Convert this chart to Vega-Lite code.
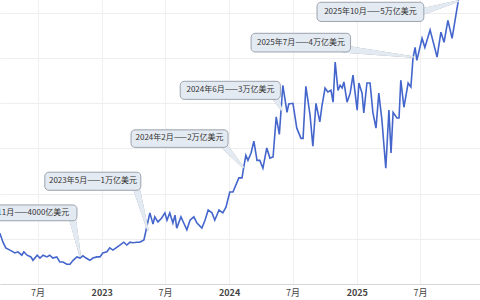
{
  "$schema": "https://vega.github.io/schema/vega-lite/v6.json",
  "width": 480,
  "height": 284,
  "padding": 0,
  "autosize": {"type": "pad"},
  "background": "white",
  "config": {"view": {"stroke": null}},
  "datasets": {
    "series": [
      {"date": "2022-03-15", "v": 0.90}, {"date": "2022-03-24", "v": 0.74}, {"date": "2022-04-01", "v": 0.64},
      {"date": "2022-04-13", "v": 0.60}, {"date": "2022-04-27", "v": 0.55}, {"date": "2022-05-06", "v": 0.57},
      {"date": "2022-05-17", "v": 0.51}, {"date": "2022-05-23", "v": 0.57}, {"date": "2022-06-01", "v": 0.51},
      {"date": "2022-06-12", "v": 0.48}, {"date": "2022-06-18", "v": 0.42}, {"date": "2022-06-30", "v": 0.51},
      {"date": "2022-07-08", "v": 0.46}, {"date": "2022-07-17", "v": 0.51}, {"date": "2022-07-28", "v": 0.48},
      {"date": "2022-08-05", "v": 0.51}, {"date": "2022-08-14", "v": 0.46}, {"date": "2022-08-25", "v": 0.48},
      {"date": "2022-09-03", "v": 0.39}, {"date": "2022-09-12", "v": 0.39}, {"date": "2022-09-23", "v": 0.35},
      {"date": "2022-10-02", "v": 0.35}, {"date": "2022-10-11", "v": 0.42}, {"date": "2022-10-22", "v": 0.48},
      {"date": "2022-10-31", "v": 0.46}, {"date": "2022-11-08", "v": 0.50}, {"date": "2022-11-17", "v": 0.46},
      {"date": "2022-11-28", "v": 0.42}, {"date": "2022-12-07", "v": 0.46}, {"date": "2022-12-18", "v": 0.48},
      {"date": "2022-12-27", "v": 0.48}, {"date": "2023-01-04", "v": 0.55}, {"date": "2023-01-16", "v": 0.57},
      {"date": "2023-01-24", "v": 0.64}, {"date": "2023-02-02", "v": 0.60}, {"date": "2023-02-13", "v": 0.65},
      {"date": "2023-02-22", "v": 0.69}, {"date": "2023-03-05", "v": 0.74}, {"date": "2023-03-14", "v": 0.69},
      {"date": "2023-03-23", "v": 0.74}, {"date": "2023-03-31", "v": 0.73}, {"date": "2023-04-12", "v": 0.74},
      {"date": "2023-04-20", "v": 0.74}, {"date": "2023-05-02", "v": 0.78}, {"date": "2023-05-10", "v": 1.01},
      {"date": "2023-05-19", "v": 1.26}, {"date": "2023-05-28", "v": 1.06}, {"date": "2023-06-02", "v": 1.19},
      {"date": "2023-06-11", "v": 1.10}, {"date": "2023-06-22", "v": 1.17}, {"date": "2023-07-01", "v": 1.26},
      {"date": "2023-07-07", "v": 1.13}, {"date": "2023-07-15", "v": 1.26}, {"date": "2023-07-24", "v": 1.08},
      {"date": "2023-07-30", "v": 1.22}, {"date": "2023-08-04", "v": 0.99}, {"date": "2023-08-16", "v": 1.19},
      {"date": "2023-08-24", "v": 1.08}, {"date": "2023-09-02", "v": 0.96}, {"date": "2023-09-11", "v": 1.13},
      {"date": "2023-09-22", "v": 1.19}, {"date": "2023-10-01", "v": 1.08}, {"date": "2023-10-15", "v": 0.99},
      {"date": "2023-10-24", "v": 1.13}, {"date": "2023-11-02", "v": 1.31}, {"date": "2023-11-13", "v": 1.26},
      {"date": "2023-11-21", "v": 1.13}, {"date": "2023-12-03", "v": 1.31}, {"date": "2023-12-14", "v": 1.26},
      {"date": "2023-12-23", "v": 1.36}, {"date": "2024-01-03", "v": 1.63}, {"date": "2024-01-12", "v": 1.63},
      {"date": "2024-01-23", "v": 1.79}, {"date": "2024-01-29", "v": 1.88}, {"date": "2024-02-07", "v": 1.88},
      {"date": "2024-02-12", "v": 2.07}, {"date": "2024-02-18", "v": 2.28}, {"date": "2024-02-24", "v": 2.19},
      {"date": "2024-03-04", "v": 2.32}, {"date": "2024-03-12", "v": 2.53}, {"date": "2024-03-21", "v": 2.19},
      {"date": "2024-03-29", "v": 2.19}, {"date": "2024-04-07", "v": 2.05}, {"date": "2024-04-18", "v": 2.41},
      {"date": "2024-04-27", "v": 2.23}, {"date": "2024-05-06", "v": 2.25}, {"date": "2024-05-15", "v": 2.96},
      {"date": "2024-05-24", "v": 2.65}, {"date": "2024-06-03", "v": 3.52}, {"date": "2024-06-15", "v": 3.04},
      {"date": "2024-06-20", "v": 3.19}, {"date": "2024-07-02", "v": 3.20}, {"date": "2024-07-13", "v": 2.76},
      {"date": "2024-07-25", "v": 2.58}, {"date": "2024-07-31", "v": 2.58}, {"date": "2024-08-08", "v": 3.50},
      {"date": "2024-08-20", "v": 2.99}, {"date": "2024-08-28", "v": 2.44}, {"date": "2024-09-06", "v": 3.20},
      {"date": "2024-09-17", "v": 2.87}, {"date": "2024-09-23", "v": 3.15}, {"date": "2024-10-02", "v": 3.47},
      {"date": "2024-10-10", "v": 3.40}, {"date": "2024-10-19", "v": 3.43}, {"date": "2024-10-25", "v": 3.22},
      {"date": "2024-10-31", "v": 3.93}, {"date": "2024-11-08", "v": 3.43}, {"date": "2024-11-14", "v": 3.52},
      {"date": "2024-11-20", "v": 3.47}, {"date": "2024-11-25", "v": 3.58}, {"date": "2024-12-04", "v": 3.22},
      {"date": "2024-12-13", "v": 3.38}, {"date": "2024-12-21", "v": 3.70}, {"date": "2025-01-02", "v": 3.08},
      {"date": "2025-01-07", "v": 3.56}, {"date": "2025-01-16", "v": 3.38}, {"date": "2025-01-21", "v": 3.03},
      {"date": "2025-01-30", "v": 3.56}, {"date": "2025-02-08", "v": 3.56}, {"date": "2025-02-16", "v": 3.04},
      {"date": "2025-02-25", "v": 2.76}, {"date": "2025-03-05", "v": 3.38}, {"date": "2025-03-14", "v": 2.90},
      {"date": "2025-03-25", "v": 2.05}, {"date": "2025-04-03", "v": 3.08}, {"date": "2025-04-09", "v": 2.32},
      {"date": "2025-04-15", "v": 3.04}, {"date": "2025-04-26", "v": 2.94}, {"date": "2025-05-02", "v": 2.94},
      {"date": "2025-05-07", "v": 3.61}, {"date": "2025-05-16", "v": 3.13}, {"date": "2025-05-28", "v": 3.56},
      {"date": "2025-06-05", "v": 3.49}, {"date": "2025-06-11", "v": 4.00}, {"date": "2025-06-17", "v": 4.19},
      {"date": "2025-06-22", "v": 3.96}, {"date": "2025-07-07", "v": 4.35}, {"date": "2025-07-15", "v": 4.19},
      {"date": "2025-07-30", "v": 4.50}, {"date": "2025-08-19", "v": 4.02}, {"date": "2025-08-30", "v": 4.46},
      {"date": "2025-09-08", "v": 4.28}, {"date": "2025-09-19", "v": 4.67}, {"date": "2025-10-01", "v": 4.35},
      {"date": "2025-10-21", "v": 5.10}
    ],
    "boxes": [
      {"label": "2022年11月——4000亿美元", "start": "2021-12-05", "end": "2022-10-22", "top": 1.40, "bottom": 1.12, "mid": "2022-05-13", "midv": 1.26},
      {"label": "2023年5月——1万亿美元", "start": "2022-07-22", "end": "2023-04-23", "top": 1.98, "bottom": 1.66, "mid": "2022-12-07", "midv": 1.82},
      {"label": "2024年2月——2万亿美元", "start": "2023-03-26", "end": "2023-12-29", "top": 2.73, "bottom": 2.42, "mid": "2023-08-12", "midv": 2.58},
      {"label": "2024年6月——3万亿美元", "start": "2023-08-14", "end": "2024-05-27", "top": 3.59, "bottom": 3.27, "mid": "2024-01-05", "midv": 3.43},
      {"label": "2025年7月——4万亿美元", "start": "2024-03-04", "end": "2024-12-14", "top": 4.44, "bottom": 4.11, "mid": "2024-07-25", "midv": 4.27},
      {"label": "2025年10月——5万亿美元", "start": "2024-09-09", "end": "2025-07-12", "top": 4.99, "bottom": 4.65, "mid": "2025-02-09", "midv": 4.82}
    ],
    "pointers": [
      {"id": 1, "date": "2022-10-07", "v": 1.22, "along": 0}, {"id": 1, "date": "2022-10-31", "v": 0.50, "along": 1},
      {"id": 2, "date": "2023-04-06", "v": 1.79, "along": 0}, {"id": 2, "date": "2023-05-13", "v": 0.96, "along": 1},
      {"id": 3, "date": "2023-12-06", "v": 2.53, "along": 0}, {"id": 3, "date": "2024-02-10", "v": 2.07, "along": 1},
      {"id": 4, "date": "2024-05-08", "v": 3.35, "along": 0}, {"id": 4, "date": "2024-05-31", "v": 3.08, "along": 1},
      {"id": 5, "date": "2024-11-28", "v": 4.16, "along": 0}, {"id": 5, "date": "2025-06-11", "v": 4.02, "along": 1},
      {"id": 6, "date": "2025-06-25", "v": 4.80, "along": 0}, {"id": 6, "date": "2025-10-18", "v": 5.01, "along": 1}
    ]
  },
  "layer": [
    {
      "data": {"name": "series"},
      "mark": {"type": "line", "color": "#4466cc", "strokeWidth": 1.6, "clip": true},
      "encoding": {
        "x": {
          "field": "date", "type": "temporal",
          "scale": {"type": "utc", "domain": [{"year": 2022, "month": 3, "date": 15, "hours": 12, "utc": true}, {"year": 2025, "month": 12, "date": 20, "utc": true}]},
          "axis": {
            "title": null,
            "values": [
              {"year": 2022, "month": 7, "date": 1, "utc": true},
              {"year": 2023, "month": 1, "date": 1, "utc": true},
              {"year": 2023, "month": 7, "date": 1, "utc": true},
              {"year": 2024, "month": 1, "date": 1, "utc": true},
              {"year": 2024, "month": 7, "date": 1, "utc": true},
              {"year": 2025, "month": 1, "date": 1, "utc": true},
              {"year": 2025, "month": 7, "date": 1, "utc": true},
              {"year": 2026, "month": 1, "date": 1, "utc": true}
            ],
            "labelExpr": "utcmonth(datum.value) === 0 ? utcFormat(datum.value, '%Y') : (utcmonth(datum.value) + 1) + '月'",
            "labelFontWeight": {"condition": {"test": "utcmonth(datum.value) === 0", "value": "bold"}, "value": "normal"},
            "labelFont": "Noto Sans CJK SC",
            "labelFontSize": 9,
            "labelColor": "#444444",
            "labelFlush": false,
            "labelOverlap": false,
            "labelPadding": 4,
            "ticks": false,
            "domainColor": "#d6d6d6",
            "grid": true,
            "gridColor": "#f0f0f0"
          }
        },
        "y": {
          "field": "v", "type": "quantitative",
          "scale": {"domain": [0, 5.03], "nice": false, "zero": false},
          "axis": {
            "title": null, "labels": false, "ticks": false, "domain": false,
            "values": [0, 0.4, 0.8, 1.2, 1.6, 2.0, 2.4, 2.8, 3.2, 3.6, 4.0, 4.4, 4.8],
            "grid": true, "gridColor": "#eeeeee"
          }
        }
      }
    },
    {
      "data": {"name": "pointers"},
      "mark": {"type": "trail", "color": "#9aa2ad", "clip": true},
      "encoding": {
        "x": {"field": "date", "type": "temporal"},
        "y": {"field": "v", "type": "quantitative"},
        "detail": {"field": "id", "type": "nominal"},
        "order": {"field": "along", "type": "quantitative"},
        "size": {"field": "along", "type": "quantitative", "scale": {"domain": [0, 1], "range": [7.5, 1.6]}, "legend": null}
      }
    },
    {
      "data": {"name": "pointers"},
      "mark": {"type": "trail", "color": "#e4eaf2", "clip": true},
      "encoding": {
        "x": {"field": "date", "type": "temporal"},
        "y": {"field": "v", "type": "quantitative"},
        "detail": {"field": "id", "type": "nominal"},
        "order": {"field": "along", "type": "quantitative"},
        "size": {"field": "along", "type": "quantitative", "scale": {"domain": [0, 1], "range": [5.5, 0]}, "legend": null}
      }
    },
    {
      "data": {"name": "boxes"},
      "mark": {"type": "rect", "fill": "#e4eaf2", "stroke": "#9aa2ad", "strokeWidth": 1, "cornerRadius": 4, "clip": true},
      "encoding": {
        "x": {"field": "start", "type": "temporal"},
        "x2": {"field": "end"},
        "y": {"field": "top", "type": "quantitative"},
        "y2": {"field": "bottom"}
      }
    },
    {
      "data": {"name": "boxes"},
      "mark": {"type": "text", "font": "Noto Sans CJK SC", "fontSize": 8, "color": "#333333", "align": "center", "baseline": "middle", "clip": true},
      "encoding": {
        "x": {"field": "mid", "type": "temporal"},
        "y": {"field": "midv", "type": "quantitative"},
        "text": {"field": "label"}
      }
    }
  ]
}
